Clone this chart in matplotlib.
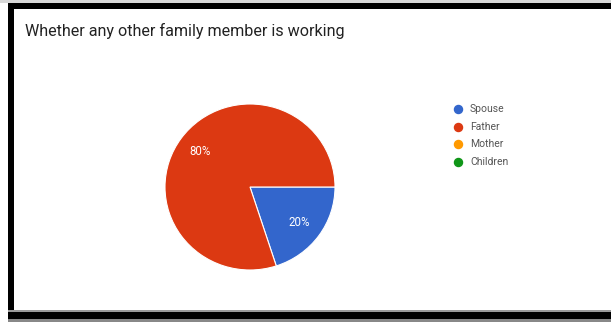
import matplotlib
matplotlib.use("Agg")
import matplotlib.pyplot as plt
from matplotlib.patches import Rectangle
from matplotlib.lines import Line2D

plt.rcParams['font.family'] = ['Roboto', 'DejaVu Sans']

title = "Whether any other family member is working"
categories = ["Spouse", "Father", "Mother", "Children"]
shares = [20, 80, 0, 0]
colors = ["#3366CC", "#DC3912", "#FF9900", "#109618"]

W, H = 611, 322
fig = plt.figure(figsize=(W / 100, H / 100), dpi=100)
fig.patch.set_facecolor("white")

def fx(px):
    return px / W

def fy(py):
    return 1 - py / H

# frame around the chart card
overlay = fig.add_axes([0, 0, 1, 1])
overlay.set_xlim(0, W)
overlay.set_ylim(H, 0)
overlay.axis("off")
overlay.add_patch(Rectangle((0, 0), W, 3, color="#d8d8d8", lw=0))
overlay.add_patch(Rectangle((8, 3), W - 8, 6, color="black", lw=0))
overlay.add_patch(Rectangle((8, 3), 6, 313, color="black", lw=0))
overlay.add_patch(Rectangle((8, 312), W - 8, 7, color="black", lw=0))
overlay.add_patch(Rectangle((8, 310), W - 8, 2, color="#9a9a9a", lw=0))
overlay.add_patch(Rectangle((8, 319), W - 8, 3, color="#888888", lw=0))

overlay.text(25, 31, title, fontsize=11.6, color="#222222", va="center", ha="left")

# pie (slightly flattened, as the card was rendered)
cx, cy, rx, ry = 250, 187, 85, 83
ax = fig.add_axes([fx(cx - rx), fy(cy + ry), 2 * rx / W, 2 * ry / H])
nonzero = [(s, c) for s, c in zip(shares, colors) if s > 0]
wedges, texts, autotexts = ax.pie(
    [s for s, _ in nonzero],
    colors=[c for _, c in nonzero],
    startangle=0,
    counterclock=False,
    autopct="%d%%",
    pctdistance=0.72,
    radius=1,
    wedgeprops=dict(edgecolor="white", linewidth=0.8),
    textprops=dict(color="white", fontsize=8.3),
)
ax.set_xlim(-1, 1)
ax.set_ylim(-1, 1)
ax.set_aspect("auto")
ax.axis("off")

# legend
for i, (name, col) in enumerate(zip(categories, colors)):
    y = 109 + i * 17.7
    overlay.add_line(Line2D([458], [y], marker="o", markersize=5.8,
                            markerfacecolor=col, markeredgecolor=col, lw=0))
    overlay.text(470, y, name, fontsize=7.5, color="#555555", va="center", ha="left")

fig.savefig("out.png", dpi=100)
